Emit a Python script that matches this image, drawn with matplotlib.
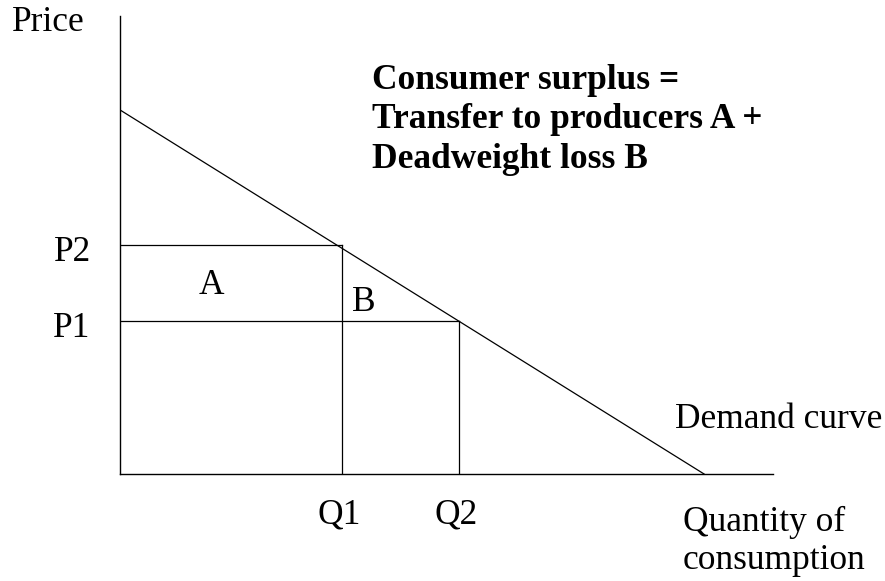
import matplotlib
matplotlib.use("Agg")
from matplotlib import pyplot as plt

# demand curve end points (quantity, price)
demand_q = [0, 10]
demand_p = [10, 0]

# the two price/quantity pairs on the curve
q1, q2 = 3.8, 5.8
p1, p2 = 4.2, 6.3

price_labels = ["P1", "P2"]
quantity_labels = ["Q1", "Q2"]
note_lines = ["Consumer surplus =", "Transfer to producers A +", "Deadweight loss B"]

plt.rcParams['font.family'] = ['Liberation Serif', 'DejaVu Serif']

W, H = 885, 581
fig = plt.figure(figsize=(W / 100, H / 100), dpi=100)
# axes box: origin at (120, 474) px, top at y=16, right end at x=773
ax = fig.add_axes([120 / W, (H - 474) / H, (773 - 120) / W, (474 - 16) / H])
ax.set_xlim(0, 11.18)
ax.set_ylim(0, 12.58)
for s in ["top", "right"]:
    ax.spines[s].set_visible(False)
for s in ["left", "bottom"]:
    ax.spines[s].set_linewidth(1.0)
    ax.spines[s].set_color("black")
ax.set_xticks([])
ax.set_yticks([])

lw = 0.9
ax.plot(demand_q, demand_p, color="black", lw=lw)
ax.plot([0, q1], [p2, p2], color="black", lw=lw)
ax.plot([0, q2], [p1, p1], color="black", lw=lw)
ax.plot([q1, q1], [0, p2], color="black", lw=lw)
ax.plot([q2, q2], [0, p1], color="black", lw=lw)

fs = 25.5
for lab, p in zip(price_labels, [p1, p2]):
    ax.text(-0.5, p - 0.45, lab, ha="right", va="baseline", fontsize=fs, clip_on=False)
for lab, q in zip(quantity_labels, [q1, q2]):
    ax.text(q - 0.05, -1.35, lab, ha="center", va="baseline", fontsize=fs, clip_on=False)

ax.text(1.57, 4.95, "A", ha="center", va="baseline", fontsize=fs)
ax.text(3.97, 4.48, "B", ha="left", va="baseline", fontsize=fs)

# axis titles and notes, positioned in pixels
def px(x, y):
    return x / W, 1 - y / H

fig.text(*px(12, 31), "Price", fontsize=fs, va="baseline")
fig.text(*px(882, 428), "Demand curve", fontsize=fs, ha="right", va="baseline")
fig.text(*px(683, 531), "Quantity of", fontsize=fs, va="baseline")
fig.text(*px(683, 569), "consumption", fontsize=fs, va="baseline")
for i, line in enumerate(note_lines):
    fig.text(*px(372, 89 + 39.5 * i), line, fontsize=fs, fontweight="bold", va="baseline")

fig.savefig("out.png", dpi=100)
